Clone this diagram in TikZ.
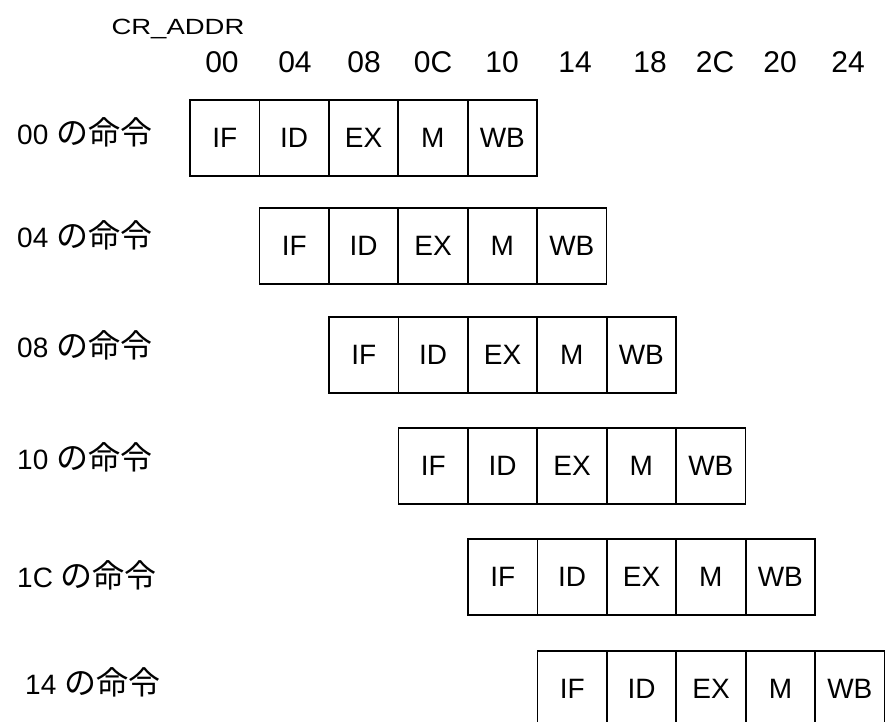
\documentclass[tikz,border=0pt]{standalone}
\usepackage{fontspec}
\usepackage{graphicx}
\setmainfont{Liberation Sans}
\newfontfamily\jp{Noto Sans CJK JP}
\begin{document}
\begin{tikzpicture}[x=1pt,y=-1pt,
  cell/.style={draw, line width=1.8pt, minimum width=69.4pt, minimum height=76pt,
    inner sep=0pt, outer sep=0pt, anchor=north west, font=\fontsize{28}{28}\selectfont},
  rowlabel/.style={anchor=west, inner sep=0pt, font=\fontsize{28}{28}\selectfont},
  addr/.style={inner sep=0pt, font=\fontsize{30}{30}\selectfont}]
\useasboundingbox (0,0) rectangle (888,722);
\node[inner sep=0pt, font=\fontsize{22}{22}\selectfont] (craddr) at (178,29) {\scalebox{1.25}[1]{CR\_ADDR}};
\foreach \n/\x in {00/222, 04/295, 08/364, 0C/433, 10/502, 14/575, 18/650, 2C/715, 20/780, 24/848}
  \node[addr] (h\n) at (\x,62) {\n};
\foreach \i/\lab/\y/\ly/\lx in {1/00/100/132/17, 2/04/208/235/17, 3/08/317/345/17, 4/10/428/457/17, 5/1C/539/575/17, 6/14/651/682/25}{
  \node[rowlabel] (lab\i) at (\lx,\ly) {\lab\ {\jp\fontsize{32}{32}\selectfont の命令}};
  \foreach \j/\s in {1/IF,2/ID,3/EX,4/M,5/WB}
    \node[cell] (r\i-\j) at ({190+69.5*(\i-1)+69.4*(\j-1)},\y) {\s};
}
\end{tikzpicture}
\end{document}
